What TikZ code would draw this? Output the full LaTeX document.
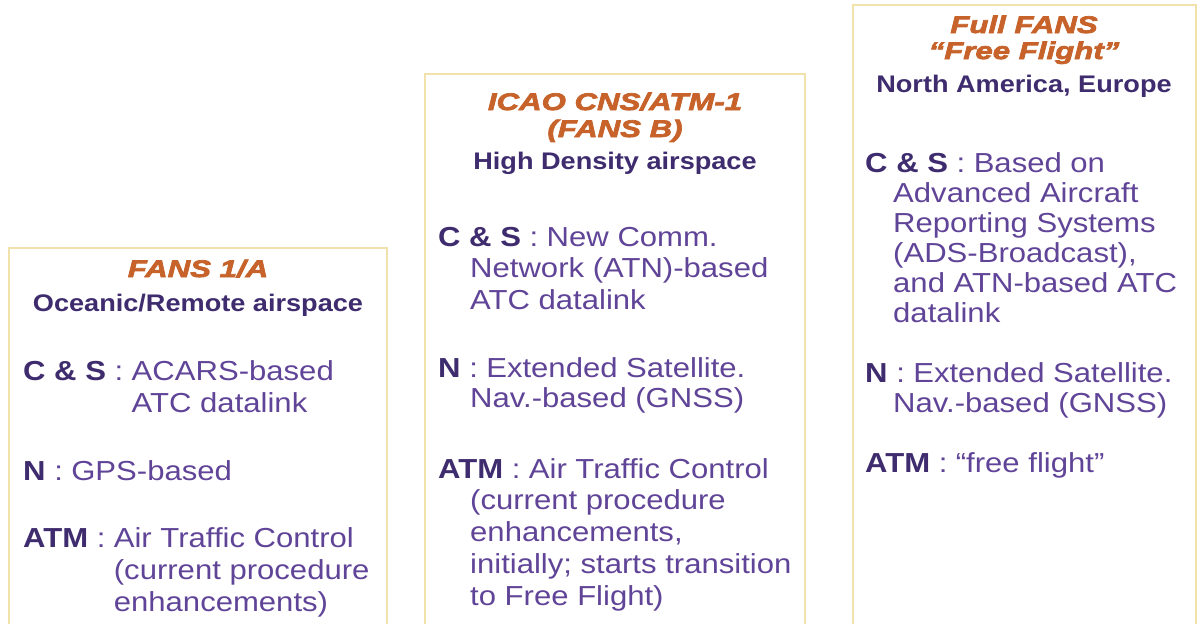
\documentclass[tikz,border=0pt]{standalone}
\usepackage{fontspec}
\setmainfont{Liberation Sans}[FakeStretch=1.13]
\newfontfamily\titlefont{Liberation Sans}[FakeStretch=1.3, FakeBold=3]
\usepackage{tikz}
\usetikzlibrary{positioning}

\definecolor{panelrim}{RGB}{241,226,172}
\definecolor{headorange}{RGB}{198,98,42}
\definecolor{tagpurple}{RGB}{62,44,110}
\definecolor{bodypurple}{RGB}{96,68,152}

\tikzset{
  panel/.style={draw=panelrim, line width=2.5pt},
  heading/.style={anchor=base, inner sep=0pt, text=headorange,
    font=\titlefont\fontsize{24}{28}\selectfont\bfseries\itshape},
  region/.style={anchor=base, inner sep=0pt, text=tagpurple,
    font=\fontsize{24}{28}\selectfont\bfseries},
  tag/.style={anchor=base west, inner sep=0pt, text=tagpurple,
    font=\fontsize{27.5}{33}\selectfont\bfseries},
  body/.style={anchor=base west, inner sep=0pt, text=bodypurple,
    font=\fontsize{27.5}{33}\selectfont},
  after/.style={xshift=8pt},
  nextline/.style={yshift=-32pt},
  tightline/.style={yshift=-30pt}
}
\newcommand{\sep}{\ \textmd{\color{bodypurple}:}}

\begin{document}
\begin{tikzpicture}[x=1pt, y=-1pt]
  \clip (0,0) rectangle (1200,624);
  \fill[white] (0,0) rectangle (1200,624);

  \draw[panel] (9,248) rectangle (387,650);
  \node (lt)   [heading] at (198,277) {FANS 1/A};
  \node (lreg) [region]  at (198,311) {Oceanic/Remote airspace};
  \node (lcsk) [tag] at (23,380) {C \& S\sep};
  \node (lcs)  [body, after] at (lcsk.base east) {ACARS-based};
  \node (lcs2) [body, nextline] at (lcs.base west) {ATC datalink};
  \node (lnk)  [tag] at (23,480) {N\sep};
  \node (ln)   [body, after] at (lnk.base east) {GPS-based};
  \node (latk) [tag] at (23,547) {ATM\sep};
  \node (lat)  [body, after] at (latk.base east) {Air Traffic Control};
  \node (lat2) [body, nextline] at (lat.base west) {(current procedure};
  \node (lat3) [body, nextline] at (lat2.base west) {enhancements)};

  \draw[panel] (425,74) rectangle (805,650);
  \node (mt)   [heading] at (615,110) {ICAO CNS/ATM-1};
  \node (mt2)  [heading] at (615,137) {(FANS B)};
  \node (mreg) [region]  at (615,169) {High Density airspace};
  \node (mcsk) [tag] at (438,246) {C \& S\sep};
  \node (mcs)  [body, after] at (mcsk.base east) {New Comm.};
  \node (mcs2) [body] at (470,277) {Network (ATN)-based};
  \node (mcs3) [body, nextline] at (mcs2.base west) {ATC datalink};
  \node (mnk)  [tag] at (438,377) {N\sep};
  \node (mn)   [body, after] at (mnk.base east) {Extended Satellite.};
  \node (mn2)  [body] at (470,407) {Nav.-based (GNSS)};
  \node (matk) [tag] at (438,478) {ATM\sep};
  \node (mat)  [body, after] at (matk.base east) {Air Traffic Control};
  \node (mat2) [body] at (470,509) {(current procedure};
  \node (mat3) [body, nextline] at (mat2.base west) {enhancements,};
  \node (mat4) [body, nextline] at (mat3.base west) {initially; starts transition};
  \node (mat5) [body, nextline] at (mat4.base west) {to Free Flight)};

  \draw[panel] (853,5) rectangle (1196,650);
  \node (rt)   [heading] at (1024,33) {Full FANS};
  \node (rt2)  [heading] at (1024,59) {“Free Flight”};
  \node (rreg) [region]  at (1024,92) {North America, Europe};
  \node (rcsk) [tag] at (865,172) {C \& S\sep};
  \node (rcs)  [body, after] at (rcsk.base east) {Based on};
  \node (rcs2) [body] at (893,202) {Advanced Aircraft};
  \node (rcs3) [body, tightline] at (rcs2.base west) {Reporting Systems};
  \node (rcs4) [body, tightline] at (rcs3.base west) {(ADS-Broadcast),};
  \node (rcs5) [body, tightline] at (rcs4.base west) {and ATN-based ATC};
  \node (rcs6) [body, tightline] at (rcs5.base west) {datalink};
  \node (rnk)  [tag] at (865,382) {N\sep};
  \node (rn)   [body, after] at (rnk.base east) {Extended Satellite.};
  \node (rn2)  [body] at (893,412) {Nav.-based (GNSS)};
  \node (ratk) [tag] at (865,472) {ATM\sep};
  \node (rat)  [body, after] at (ratk.base east) {“free flight”};
\end{tikzpicture}
\end{document}
